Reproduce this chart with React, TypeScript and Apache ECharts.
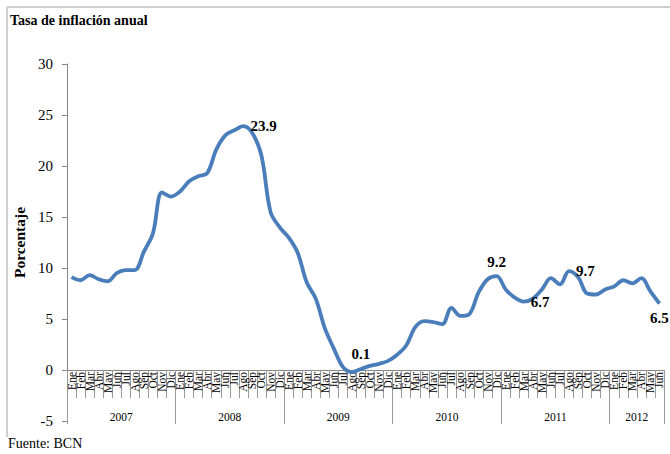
import React, { useEffect, useRef } from "react";
import * as echarts from "echarts";

const months = ["Ene", "Feb", "Mar", "Abr", "May", "Jun", "Jul", "Ago", "Sep", "Oct", "Nov", "Dic"];
const years = ["2007", "2008", "2009", "2010", "2011", "2012"];
const monthsPerYear = [12, 12, 12, 12, 12, 6];

const inflation2007 = [9.1, 8.8, 9.3, 8.9, 8.7, 9.5, 9.8, 9.8, 11.6, 13.4, 17.4, 17.0];
const inflation2008 = [17.5, 18.5, 19.0, 19.3, 21.6, 23.0, 23.5, 23.9, 23.2, 21.0, 15.5, 14.0];
const inflation2009 = [13.0, 11.5, 8.6, 7.0, 4.1, 2.1, 0.3, -0.2, 0.1, 0.4, 0.6, 0.9];
const inflation2010 = [1.5, 2.4, 4.2, 4.8, 4.7, 4.5, 6.1, 5.3, 5.5, 7.6, 8.9, 9.2];
const inflation2011 = [7.9, 7.1, 6.7, 7.0, 7.9, 9.0, 8.4, 9.7, 9.1, 7.5, 7.4, 7.9];
const inflation2012 = [8.2, 8.8, 8.5, 9.0, 7.7, 6.5];

// data labels shown in the chart: index -> label position
const labelledPoints: Record<number, string> = {
  19: "right",
  32: "top",
  47: "top",
  50: "right",
  55: "right",
  65: "bottom",
};

export default function App() {
  const ref = useRef<HTMLDivElement>(null);

  useEffect(() => {
    document.body.style.margin = "0";
    if (!ref.current) return;
    const chart = echarts.init(ref.current, null, { renderer: "svg" });

    const values = [
      ...inflation2007,
      ...inflation2008,
      ...inflation2009,
      ...inflation2010,
      ...inflation2011,
      ...inflation2012,
    ];
    const monthCats: string[] = [];
    monthsPerYear.forEach((n) => {
      for (let i = 0; i < n; i++) monthCats.push(months[i]);
    });

    const total = monthCats.length;
    const yearCats: string[] = new Array(total + 1).fill("");
    const boundaries = new Set<number>();
    const labelIdx = new Set<number>();
    let start = 0;
    boundaries.add(0);
    monthsPerYear.forEach((n, k) => {
      const mid = start + n / 2;
      yearCats[mid] = years[k];
      labelIdx.add(mid);
      start += n;
      boundaries.add(start);
    });

    const font = "Liberation Serif";
    const seriesData = values.map((v, i) =>
      labelledPoints[i]
        ? {
            value: v,
            label: {
              show: true,
              position: labelledPoints[i],
              distance: 7,
              formatter: (p: any) => p.value.toFixed(1),
            },
          }
        : v
    );

    // grid: top 64, bottom edge at 421 (value -5); value 0 sits 51px above
    const zeroOffset = -51;

    chart.setOption({
      animation: false,
      title: {
        text: "Tasa de inflación anual",
        left: 5,
        top: 8,
        textStyle: { fontFamily: font, fontSize: 14, fontWeight: "bold", color: "#000" },
      },
      graphic: [
        { type: "line", shape: { x1: 7, y1: 7, x2: 670, y2: 7 }, style: { stroke: "#cfcfcf", lineWidth: 2 } },
        { type: "line", shape: { x1: 7, y1: 7, x2: 7, y2: 437 }, style: { stroke: "#cfcfcf", lineWidth: 2 } },
        {
          type: "text",
          left: 8,
          top: 436,
          style: { text: "Fuente: BCN", font: `14px "${font}"`, fill: "#000" },
        },
      ],
      grid: { left: 67, right: 6, top: 64, bottom: 33, containLabel: false, outerBoundsMode: "none" },
      xAxis: [
        {
          type: "category",
          position: "bottom",
          offset: zeroOffset,
          data: monthCats,
          boundaryGap: true,
          axisLine: { show: true, onZero: false, lineStyle: { color: "#868686", width: 1 } },
          axisTick: { show: true, interval: 0, length: 28, lineStyle: { color: "#9a9a9a" } },
          axisLabel: {
            interval: 0,
            rotate: 90,
            margin: 2,
            fontFamily: font,
            fontSize: 11.5,
            color: "#000",
          },
        },
        {
          type: "category",
          position: "bottom",
          offset: zeroOffset,
          data: yearCats,
          boundaryGap: false,
          axisLine: { show: false, onZero: false },
          axisTick: {
            show: true,
            length: 54,
            interval: (i: number) => boundaries.has(i),
            lineStyle: { color: "#9a9a9a" },
          },
          axisLabel: {
            interval: (i: number) => labelIdx.has(i),
            margin: 41,
            fontFamily: font,
            fontSize: 11.5,
            color: "#000",
          },
        },
      ],
      yAxis: {
        type: "value",
        min: -5,
        max: 30,
        interval: 5,
        name: "Porcentaje",
        nameLocation: "middle",
        nameRotate: 90,
        nameGap: 31,
        nameTextStyle: { fontFamily: font, fontSize: 15.5, fontWeight: "bold", color: "#000" },
        axisLine: { show: true, lineStyle: { color: "#868686" } },
        axisTick: { show: true, length: 5, lineStyle: { color: "#868686" } },
        axisLabel: { margin: 14, fontFamily: font, fontSize: 15, color: "#000" },
        splitLine: { show: false },
      },
      series: [
        {
          type: "line",
          xAxisIndex: 0,
          data: seriesData,
          smooth: 0.35,
          showSymbol: true,
          symbol: "circle",
          symbolSize: 0,
          lineStyle: { color: "#4a7ebb", width: 3.8 },
          itemStyle: { color: "#4a7ebb" },
          label: {
            show: false,
            fontFamily: font,
            fontSize: 15,
            fontWeight: "bold",
            color: "#000",
          },
        },
      ],
    });

    return () => chart.dispose();
  }, []);

  return <div ref={ref} style={{ width: 670, height: 454 }} />;
}
